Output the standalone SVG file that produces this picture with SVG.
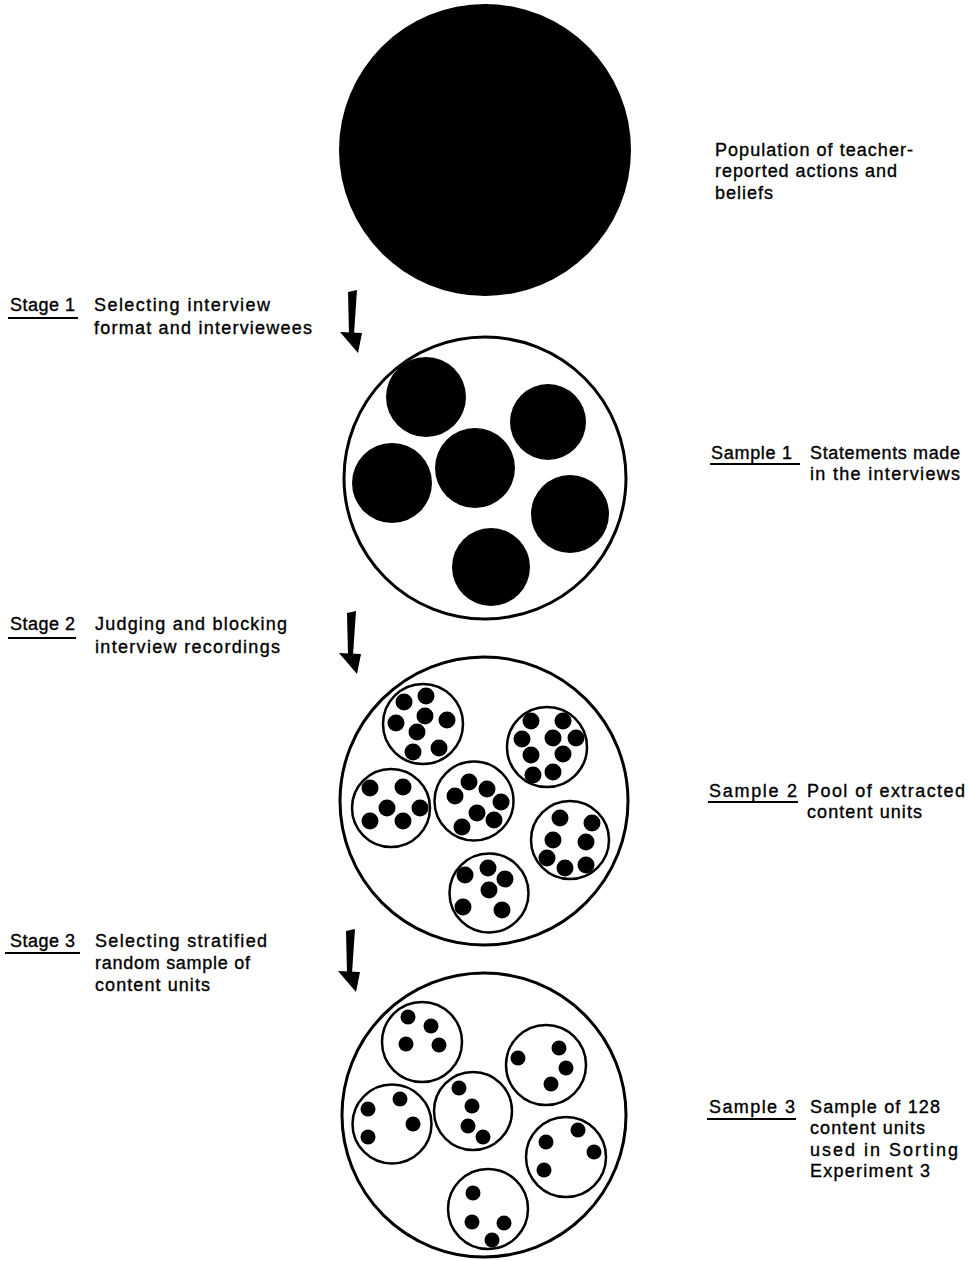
<svg xmlns="http://www.w3.org/2000/svg" width="970" height="1261" viewBox="0 0 970 1261">
<style>
  text { font-family: "Liberation Sans", "DejaVu Sans", sans-serif; font-size: 18px; fill: #000; stroke: #000; stroke-width: 0.35; }
  .outer { fill: #fff; stroke: #000; stroke-width: 3; }
  .inner { fill: #fff; stroke: #000; stroke-width: 2.5; }
  .blob { fill: #000; }
  .dot { fill: #000; }
  .ul { stroke: #000; stroke-width: 2; }
</style>
<defs>
  <g id="arrow">
    <polygon points="-4,0 5,-2 2,42 -3,42" fill="#000"/>
    <polygon points="-12,40 10,41 6,61" fill="#000"/>
  </g>
</defs>
<rect width="970" height="1261" fill="#fff"/>

<g id="connectors">
  <use href="#arrow" transform="translate(352,292)"/>
  <use href="#arrow" transform="translate(351,613)"/>
  <use href="#arrow" transform="translate(350,931)"/>
</g>

<g id="population">
  <circle cx="485" cy="150" r="146" fill="#000"/>
  <text x="715" y="156" textLength="198" lengthAdjust="spacing">Population of teacher-</text>
  <text x="715" y="177" textLength="182" lengthAdjust="spacing">reported actions and</text>
  <text x="715" y="199" textLength="58" lengthAdjust="spacing">beliefs</text>
</g>

<g id="stage1">
  <text x="10" y="311" textLength="65" lengthAdjust="spacing">Stage 1</text>
  <line class="ul" x1="8" y1="318" x2="78" y2="318"/>
  <text x="94" y="311" textLength="176" lengthAdjust="spacing">Selecting interview</text>
  <text x="94" y="334" textLength="218" lengthAdjust="spacing">format and interviewees</text>
</g>

<g id="sample1">
  <circle class="outer" cx="485" cy="478" r="141"/>
  <circle class="blob" cx="426" cy="397" r="40"/>
  <circle class="blob" cx="548" cy="422" r="38"/>
  <circle class="blob" cx="475" cy="468" r="40"/>
  <circle class="blob" cx="392" cy="483" r="40"/>
  <circle class="blob" cx="570" cy="514" r="39"/>
  <circle class="blob" cx="491" cy="567" r="39"/>
  <text x="711" y="459" textLength="81" lengthAdjust="spacing">Sample 1</text>
  <line class="ul" x1="710" y1="464" x2="800" y2="464"/>
  <text x="810" y="459" textLength="150" lengthAdjust="spacing">Statements made</text>
  <text x="810" y="480" textLength="150" lengthAdjust="spacing">in the interviews</text>
</g>

<g id="stage2">
  <text x="10" y="630" textLength="65" lengthAdjust="spacing">Stage 2</text>
  <line class="ul" x1="8" y1="638" x2="76" y2="638"/>
  <text x="95" y="630" textLength="192" lengthAdjust="spacing">Judging and blocking</text>
  <text x="95" y="653" textLength="185" lengthAdjust="spacing">interview recordings</text>
</g>

<g id="sample2">
  <circle class="outer" cx="484" cy="801" r="144"/>
  <circle class="inner" cx="423" cy="724" r="40"/>
  <circle class="inner" cx="547" cy="747" r="40"/>
  <circle class="inner" cx="391" cy="808" r="39"/>
  <circle class="inner" cx="474" cy="801" r="39.5"/>
  <circle class="inner" cx="570" cy="840" r="39"/>
  <circle class="inner" cx="489" cy="893" r="39.5"/>
  <g class="dot">
    <circle cx="404" cy="702" r="8.5"/><circle cx="426" cy="696" r="8.5"/><circle cx="447" cy="720" r="8.5"/><circle cx="396" cy="723" r="8.5"/><circle cx="425" cy="716" r="8.5"/><circle cx="417" cy="732" r="8.5"/><circle cx="413" cy="752" r="8.5"/><circle cx="439" cy="748" r="8.5"/>
    <circle cx="531" cy="721" r="8.5"/><circle cx="563" cy="721" r="8.5"/><circle cx="522" cy="739" r="8.5"/><circle cx="553" cy="738" r="8.5"/><circle cx="576" cy="738" r="8.5"/><circle cx="531" cy="755" r="8.5"/><circle cx="563" cy="754" r="8.5"/><circle cx="533" cy="775" r="8.5"/><circle cx="553" cy="772" r="8.5"/>
    <circle cx="370" cy="788" r="8.5"/><circle cx="403" cy="787" r="8.5"/><circle cx="387" cy="808" r="8.5"/><circle cx="420" cy="808" r="8.5"/><circle cx="370" cy="821" r="8.5"/><circle cx="403" cy="821" r="8.5"/>
    <circle cx="469" cy="782" r="8.5"/><circle cx="487" cy="789" r="8.5"/><circle cx="455" cy="796" r="8.5"/><circle cx="501" cy="802" r="8.5"/><circle cx="477" cy="813" r="8.5"/><circle cx="494" cy="820" r="8.5"/><circle cx="462" cy="827" r="8.5"/>
    <circle cx="560" cy="818" r="8.5"/><circle cx="592" cy="823" r="8.5"/><circle cx="553" cy="840" r="8.5"/><circle cx="586" cy="842" r="8.5"/><circle cx="547" cy="858" r="8.5"/><circle cx="565" cy="868" r="8.5"/><circle cx="586" cy="865" r="8.5"/>
    <circle cx="465" cy="875" r="8.5"/><circle cx="488" cy="868" r="8.5"/><circle cx="505" cy="879" r="8.5"/><circle cx="489" cy="890" r="8.5"/><circle cx="463" cy="907" r="8.5"/><circle cx="502" cy="910" r="8.5"/>
  </g>
  <text x="709" y="797" textLength="88" lengthAdjust="spacing">Sample 2</text>
  <line class="ul" x1="708" y1="802" x2="798" y2="802"/>
  <text x="807" y="797" textLength="158" lengthAdjust="spacing">Pool of extracted</text>
  <text x="807" y="818" textLength="115" lengthAdjust="spacing">content units</text>
</g>

<g id="stage3">
  <text x="10" y="947" textLength="65" lengthAdjust="spacing">Stage 3</text>
  <line class="ul" x1="5" y1="953" x2="80" y2="953"/>
  <text x="95" y="947" textLength="172" lengthAdjust="spacing">Selecting stratified</text>
  <text x="95" y="969" textLength="155" lengthAdjust="spacing">random sample of</text>
  <text x="95" y="991" textLength="115" lengthAdjust="spacing">content units</text>
</g>

<g id="sample3">
  <circle class="outer" cx="484" cy="1115" r="142"/>
  <circle class="inner" cx="422" cy="1042" r="40"/>
  <circle class="inner" cx="546" cy="1065" r="40"/>
  <circle class="inner" cx="392" cy="1124" r="39.5"/>
  <circle class="inner" cx="473" cy="1111" r="39"/>
  <circle class="inner" cx="566" cy="1157" r="40"/>
  <circle class="inner" cx="488" cy="1209" r="40"/>
  <g class="dot">
    <circle cx="408" cy="1017" r="7.5"/><circle cx="431" cy="1026" r="7.5"/><circle cx="406" cy="1044" r="7.5"/><circle cx="439" cy="1045" r="7.5"/>
    <circle cx="518" cy="1058" r="7.5"/><circle cx="559" cy="1048" r="7.5"/><circle cx="566" cy="1068" r="7.5"/><circle cx="551" cy="1084" r="7.5"/>
    <circle cx="368" cy="1109" r="7.5"/><circle cx="400" cy="1099" r="7.5"/><circle cx="413" cy="1124" r="7.5"/><circle cx="368" cy="1137" r="7.5"/>
    <circle cx="459" cy="1088" r="7.5"/><circle cx="472" cy="1106" r="7.5"/><circle cx="468" cy="1126" r="7.5"/><circle cx="483" cy="1137" r="7.5"/>
    <circle cx="578" cy="1130" r="7.5"/><circle cx="546" cy="1142" r="7.5"/><circle cx="594" cy="1152" r="7.5"/><circle cx="544" cy="1170" r="7.5"/>
    <circle cx="473" cy="1193" r="7.5"/><circle cx="472" cy="1222" r="7.5"/><circle cx="504" cy="1223" r="7.5"/><circle cx="492" cy="1240" r="7.5"/>
  </g>
  <text x="709" y="1113" textLength="86" lengthAdjust="spacing">Sample 3</text>
  <line class="ul" x1="707" y1="1119" x2="796" y2="1119"/>
  <text x="810" y="1113" textLength="130" lengthAdjust="spacing">Sample of 128</text>
  <text x="810" y="1134" textLength="115" lengthAdjust="spacing">content units</text>
  <text x="810" y="1156" textLength="148" lengthAdjust="spacing">used in Sorting</text>
  <text x="810" y="1177" textLength="120" lengthAdjust="spacing">Experiment 3</text>
</g>
</svg>
